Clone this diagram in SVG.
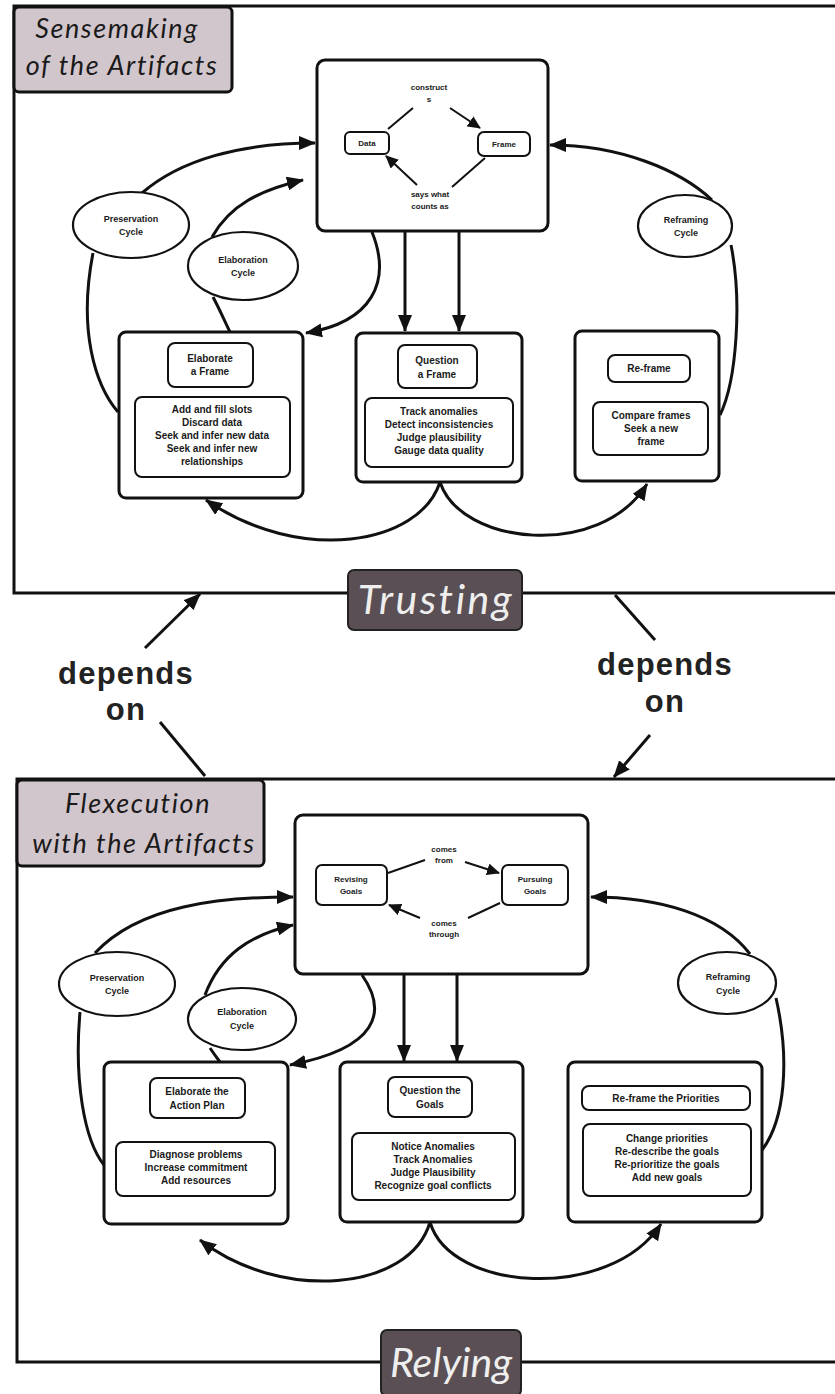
<svg xmlns="http://www.w3.org/2000/svg" width="835" height="1394" viewBox="0 0 835 1394">
<defs>
<marker id="ah" markerUnits="userSpaceOnUse" markerWidth="18" markerHeight="14" refX="16" refY="7" orient="auto">
<path d="M0,0 L17,7 L0,14 Z" fill="#111"/>
</marker>
<marker id="ahs" markerUnits="userSpaceOnUse" markerWidth="14" markerHeight="12" refX="12" refY="6" orient="auto">
<path d="M0,0 L13,6 L0,12 Z" fill="#111"/>
</marker>
<style>
.panel{fill:none;stroke:#111;stroke-width:3}
.lab{fill:#d2c6cd;stroke:#111;stroke-width:3}
.dark{fill:#5a4f54;stroke:#222;stroke-width:2}
.big{fill:#fff;stroke:#111;stroke-width:3}
.in{fill:#fff;stroke:#111;stroke-width:2}
.ell{fill:#fff;stroke:#111;stroke-width:2.2}
.c{fill:none;stroke:#111;stroke-width:3}
.cs{fill:none;stroke:#111;stroke-width:2}
.t{font-family:"Liberation Sans",Arial,sans-serif;font-weight:bold;font-size:10px;fill:#1a1a1a;text-anchor:middle}
.ts{font-family:"Liberation Sans",Arial,sans-serif;font-weight:bold;font-size:8px;fill:#1a1a1a;text-anchor:middle}
.te{font-family:"Liberation Sans",Arial,sans-serif;font-weight:bold;font-size:9px;fill:#1a1a1a;text-anchor:middle}
.it{font-family:Lato,"Open Sans",sans-serif;font-style:italic;font-size:27px;fill:#1a1a1a;text-anchor:middle;letter-spacing:1.6px}
.itw{font-family:Lato,"Open Sans",sans-serif;font-style:italic;font-size:41px;fill:#eeeeee;text-anchor:middle}
.dep{font-family:"Liberation Sans",Arial,sans-serif;font-weight:bold;font-size:31px;fill:#222;text-anchor:middle;letter-spacing:1.2px}
</style>
</defs>
<rect width="835" height="1394" fill="#fff"/>

<!-- Panels -->
<g id="panel-top">
<path class="panel" d="M840,6 L14,6 L14,593 L840,593"/>
<rect class="lab" x="14" y="7" width="218" height="85" rx="5"/>
<text class="it" x="117" y="38">Sensemaking</text>
<text class="it" x="122" y="75">of the Artifacts</text>
</g>
<g id="panel-bottom">
<path class="panel" d="M840,779 L17,779 L17,1362 L840,1362"/>
<rect class="lab" x="17" y="780" width="247" height="86" rx="5"/>
<text class="it" x="138" y="813">Flexecution</text>
<text class="it" x="144" y="853">with the Artifacts</text>
</g>

<!-- Core nodes (drawn before connectors) -->
<g id="sense-core">
<rect class="big" x="317" y="60" width="231" height="171" rx="8"/>
<text class="ts" x="429" y="90">construct</text>
<text class="ts" x="429" y="102">s</text>
<text class="ts" x="430" y="197">says what</text>
<text class="ts" x="430" y="209">counts as</text>
</g>
<g id="flex-core">
<rect class="big" x="295" y="815" width="293" height="159" rx="8"/>
<text class="ts" x="444" y="852">comes</text>
<text class="ts" x="444" y="863">from</text>
<text class="ts" x="444" y="926">comes</text>
<text class="ts" x="444" y="937">through</text>
</g>

<!-- Connectors -->
<g id="connectors">
<!-- top panel inner -->
<path class="cs" d="M413,108 L388,129"/>
<path class="cs" d="M450,108 L480,128" marker-end="url(#ahs)"/>
<path class="cs" d="M485,158 L452,187"/>
<path class="cs" d="M417,185 L386,156" marker-end="url(#ahs)"/>
<!-- top panel -->
<path class="c" d="M405,232 L405,331" marker-end="url(#ah)"/>
<path class="c" d="M459,232 L459,331" marker-end="url(#ah)"/>
<path class="c" d="M372,232 C392,282 372,322 306,333" marker-end="url(#ah)"/>
<path class="c" d="M118,412 C95,385 78,330 93,253"/>
<path class="c" d="M142,193 C180,160 240,143 315,143" marker-end="url(#ah)"/>
<path class="c" d="M213,297 C220,310 225,322 230,332"/>
<path class="c" d="M212,237 C230,205 260,190 303,180" marker-end="url(#ah)"/>
<path class="c" d="M712,200 C680,170 620,145 550,145" marker-end="url(#ah)"/>
<path class="c" d="M731,245 C742,300 737,380 720,415"/>
<path class="c" d="M440,482 C420,545 300,565 206,500" marker-end="url(#ah)"/>
<path class="c" d="M440,482 C460,545 600,560 647,484" marker-end="url(#ah)"/>
<!-- depends on -->
<path class="c" d="M205,776 L160,722"/>
<path class="c" d="M145,648 L200,594" marker-end="url(#ah)"/>
<path class="c" d="M615,595 L655,640"/>
<path class="c" d="M650,735 L614,777" marker-end="url(#ah)"/>
<!-- bottom panel inner -->
<path class="cs" d="M388,873 L425,860"/>
<path class="cs" d="M465,862 L499,873" marker-end="url(#ahs)"/>
<path class="cs" d="M500,903 L468,918"/>
<path class="cs" d="M420,918 L389,905" marker-end="url(#ahs)"/>
<!-- bottom panel -->
<path class="c" d="M404,975 L404,1061" marker-end="url(#ah)"/>
<path class="c" d="M457,975 L457,1061" marker-end="url(#ah)"/>
<path class="c" d="M362,975 C388,1012 378,1048 290,1065" marker-end="url(#ah)"/>
<path class="c" d="M80,1012 C74,1080 84,1140 104,1165"/>
<path class="c" d="M95,953 C140,905 220,897 293,897" marker-end="url(#ah)"/>
<path class="c" d="M210,1048 C214,1054 217,1058 220,1062"/>
<path class="c" d="M205,995 C220,955 250,935 293,925" marker-end="url(#ah)"/>
<path class="c" d="M750,954 C720,915 660,897 591,897" marker-end="url(#ah)"/>
<path class="c" d="M776,998 C790,1060 785,1120 762,1150"/>
<path class="c" d="M430,1222 C410,1292 280,1302 200,1240" marker-end="url(#ah)"/>
<path class="c" d="M430,1222 C450,1292 610,1302 661,1224" marker-end="url(#ah)"/>
</g>

<!-- Top panel nodes -->
<g id="data"><rect class="in" x="345" y="132" width="44" height="22" rx="5"/><text class="ts" x="367" y="146">Data</text></g>
<g id="frame"><rect class="in" x="478" y="132" width="52" height="24" rx="6"/><text class="ts" x="504" y="147">Frame</text></g>

<g id="preservation-cycle-top"><ellipse class="ell" cx="131" cy="225" rx="58" ry="33"/><text class="te" x="131" y="222">Preservation</text><text class="te" x="131" y="235">Cycle</text></g>
<g id="elaboration-cycle-top"><ellipse class="ell" cx="243" cy="266" rx="55" ry="34"/><text class="te" x="243" y="263">Elaboration</text><text class="te" x="243" y="276">Cycle</text></g>
<g id="reframing-cycle-top"><ellipse class="ell" cx="685" cy="226" rx="47" ry="31"/><text class="te" x="686" y="223">Reframing</text><text class="te" x="686" y="236">Cycle</text></g>

<g id="elaborate-frame">
<rect class="big" x="119" y="332" width="184" height="166" rx="7"/>
<rect class="in" x="168" y="343" width="85" height="44" rx="7"/>
<text class="t" x="210" y="362">Elaborate</text>
<text class="t" x="210" y="375">a Frame</text>
<rect class="in" x="135" y="397" width="155" height="80" rx="7"/>
<text class="t" x="212" y="413">Add and fill slots</text>
<text class="t" x="212" y="426">Discard data</text>
<text class="t" x="212" y="439">Seek and infer new data</text>
<text class="t" x="212" y="452">Seek and infer new</text>
<text class="t" x="212" y="465">relationships</text>
</g>
<g id="question-frame">
<rect class="big" x="356" y="333" width="166" height="149" rx="7"/>
<rect class="in" x="398" y="345" width="79" height="43" rx="7"/>
<text class="t" x="437" y="364">Question</text>
<text class="t" x="437" y="378">a Frame</text>
<rect class="in" x="365" y="398" width="148" height="69" rx="7"/>
<text class="t" x="439" y="415">Track anomalies</text>
<text class="t" x="439" y="428">Detect inconsistencies</text>
<text class="t" x="439" y="441">Judge plausibility</text>
<text class="t" x="439" y="454">Gauge data quality</text>
</g>
<g id="reframe">
<rect class="big" x="575" y="331" width="144" height="150" rx="7"/>
<rect class="in" x="608" y="355" width="82" height="27" rx="7"/>
<text class="t" x="649" y="372">Re-frame</text>
<rect class="in" x="593" y="402" width="115" height="53" rx="7"/>
<text class="t" x="651" y="419">Compare frames</text>
<text class="t" x="651" y="432">Seek a new</text>
<text class="t" x="651" y="445">frame</text>
</g>

<g id="trusting"><rect class="dark" x="348" y="570" width="174" height="60" rx="6"/><text class="itw" x="436" y="614" letter-spacing="2.5">Trusting</text></g>

<g id="depends-left"><text class="dep" x="126" y="684">depends</text><text class="dep" x="126" y="720">on</text></g>
<g id="depends-right"><text class="dep" x="665" y="675">depends</text><text class="dep" x="665" y="712">on</text></g>

<!-- Bottom panel nodes -->
<g id="revising-goals"><rect class="in" x="316" y="865" width="71" height="40" rx="6"/><text class="ts" x="351" y="882">Revising</text><text class="ts" x="351" y="894">Goals</text></g>
<g id="pursuing-goals"><rect class="in" x="502" y="865" width="66" height="40" rx="6"/><text class="ts" x="535" y="882">Pursuing</text><text class="ts" x="535" y="894">Goals</text></g>

<g id="preservation-cycle-bottom"><ellipse class="ell" cx="117" cy="984" rx="58" ry="32"/><text class="te" x="117" y="981">Preservation</text><text class="te" x="117" y="994">Cycle</text></g>
<g id="elaboration-cycle-bottom"><ellipse class="ell" cx="242" cy="1019" rx="54" ry="31"/><text class="te" x="242" y="1015">Elaboration</text><text class="te" x="242" y="1029">Cycle</text></g>
<g id="reframing-cycle-bottom"><ellipse class="ell" cx="727" cy="983" rx="49" ry="31"/><text class="te" x="728" y="980">Reframing</text><text class="te" x="728" y="994">Cycle</text></g>

<g id="elaborate-plan">
<rect class="big" x="104" y="1062" width="184" height="162" rx="7"/>
<rect class="in" x="150" y="1078" width="95" height="40" rx="7"/>
<text class="t" x="197" y="1095">Elaborate the</text>
<text class="t" x="197" y="1109">Action Plan</text>
<rect class="in" x="116" y="1142" width="159" height="54" rx="7"/>
<text class="t" x="196" y="1158">Diagnose problems</text>
<text class="t" x="196" y="1171">Increase commitment</text>
<text class="t" x="196" y="1184">Add resources</text>
</g>
<g id="question-goals">
<rect class="big" x="340" y="1062" width="183" height="160" rx="7"/>
<rect class="in" x="388" y="1077" width="84" height="40" rx="7"/>
<text class="t" x="430" y="1094">Question the</text>
<text class="t" x="430" y="1108">Goals</text>
<rect class="in" x="352" y="1133" width="163" height="67" rx="7"/>
<text class="t" x="433" y="1150">Notice Anomalies</text>
<text class="t" x="433" y="1163">Track Anomalies</text>
<text class="t" x="433" y="1176">Judge Plausibility</text>
<text class="t" x="433" y="1189">Recognize goal conflicts</text>
</g>
<g id="reframe-priorities">
<rect class="big" x="568" y="1062" width="194" height="160" rx="7"/>
<rect class="in" x="582" y="1086" width="168" height="24" rx="7"/>
<text class="t" x="666" y="1102">Re-frame the Priorities</text>
<rect class="in" x="583" y="1124" width="168" height="72" rx="7"/>
<text class="t" x="667" y="1142">Change priorities</text>
<text class="t" x="667" y="1155">Re-describe the goals</text>
<text class="t" x="667" y="1168">Re-prioritize the goals</text>
<text class="t" x="667" y="1181">Add new goals</text>
</g>

<g id="relying"><rect class="dark" x="381" y="1330" width="140" height="66" rx="6"/><text class="itw" x="451" y="1377">Relying</text></g>
</svg>
